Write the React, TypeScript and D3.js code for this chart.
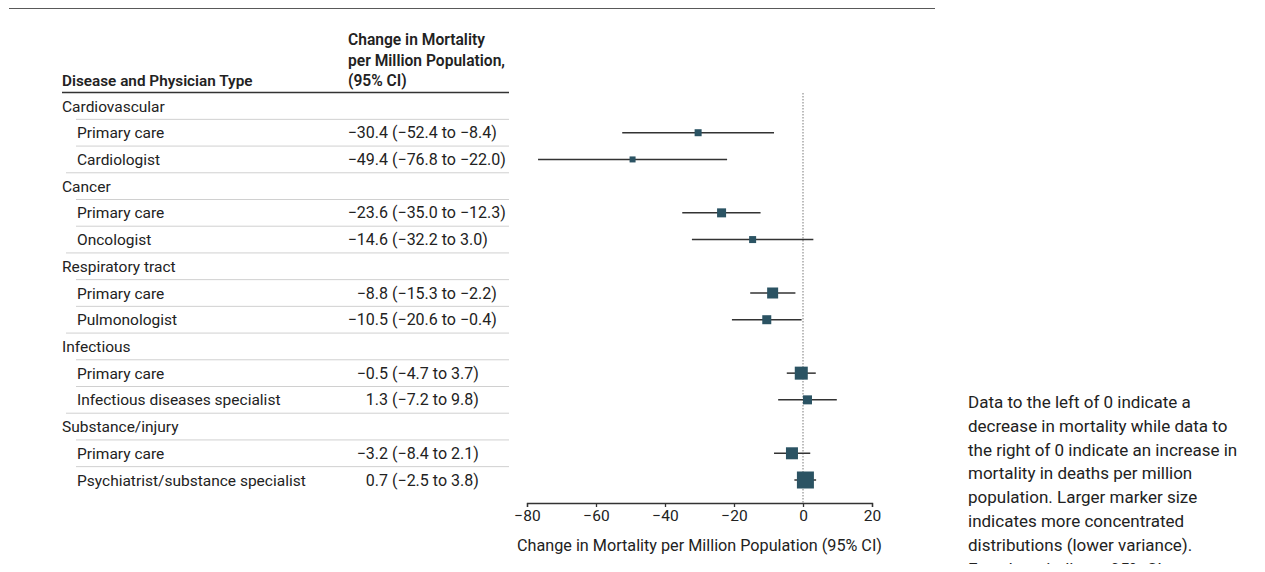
import React, { useRef, useEffect } from 'react';
import * as d3 from 'd3';

// Forest plot data
const GROUPS = ['Cardiovascular', 'Cancer', 'Respiratory tract', 'Infectious', 'Substance/injury'];
const PHYSICIANS = [
  ['Primary care', 'Cardiologist'],
  ['Primary care', 'Oncologist'],
  ['Primary care', 'Pulmonologist'],
  ['Primary care', 'Infectious diseases specialist'],
  ['Primary care', 'Psychiatrist/substance specialist'],
];
const ESTIMATES = [-30.4, -49.4, -23.6, -14.6, -8.8, -10.5, -0.5, 1.3, -3.2, 0.7];
const LOWER = [-52.4, -76.8, -35.0, -32.2, -15.3, -20.6, -4.7, -7.2, -8.4, -2.5];
const UPPER = [-8.4, -22.0, -12.3, 3.0, -2.2, -0.4, 3.7, 9.8, 2.1, 3.8];
// relative marker weight (inverse variance)
const WEIGHTS = [7, 6, 9, 7, 11, 9, 13, 9, 12, 17];

const X_TICKS = [-80, -60, -40, -20, 0, 20];
const X_TITLE = 'Change in Mortality per Million Population (95% CI)';
const COL1_TITLE = 'Disease and Physician Type';
const COL2_TITLE = ['Change in Mortality', 'per Million Population,', '(95% CI)'];
const NOTE = [
  'Data to the left of 0 indicate a',
  'decrease in mortality while data to',
  'the right of 0 indicate an increase in',
  'mortality in deaths per million',
  'population. Larger marker size',
  'indicates more concentrated',
  'distributions (lower variance).',
  'Error bars indicate 95% CI.',
];

const FONT = 'Roboto, "Noto Sans", sans-serif';
const MARKER = '#2b5363';
const TEXT = '#222';

const fmt = (v: number) => v.toFixed(1).replace('-', '\u2212');

export default function App() {
  const svgRef = useRef<SVGSVGElement>(null);

  useEffect(() => {
    const width = 1265;
    const height = 572;
    const svg = d3.select(svgRef.current).attr('width', width).attr('height', height);
    svg.selectAll('*').remove();
    svg.style('font-family', FONT);

    // flatten rows
    type Row = { label: string; group: boolean; idx: number };
    const rows: Row[] = [];
    let k = 0;
    GROUPS.forEach((g, gi) => {
      rows.push({ label: g, group: true, idx: -1 });
      PHYSICIANS[gi].forEach((p) => {
        rows.push({ label: p, group: false, idx: k++ });
      });
    });

    const y = d3.scalePoint<number>().domain(rows.map((_, i) => i)).range([106, 480]);
    const x = d3.scaleLinear().domain([-80, 20]).range([527, 872]);
    const size = d3.scaleLinear().domain([0, 17]).range([0, 17]);
    const step = y.step();

    // top rule
    svg.append('line').attr('x1', 9).attr('x2', 935).attr('y1', 8).attr('y2', 8)
      .attr('stroke', '#222').attr('stroke-width', 1.5);

    // column headers
    svg.append('text').attr('x', 62).attr('y', 86).text(COL1_TITLE)
      .attr('font-size', 15.3).attr('font-weight', 600).attr('fill', TEXT);
    COL2_TITLE.forEach((t, i) => {
      svg.append('text').attr('x', 348).attr('y', 45 + i * 20.5).text(t)
        .attr('font-size', 15.6).attr('font-weight', 600).attr('fill', TEXT);
    });
    svg.append('line').attr('x1', 62).attr('x2', 509).attr('y1', 92.5).attr('y2', 92.5)
      .attr('stroke', '#333').attr('stroke-width', 1.3);

    // row separators
    rows.forEach((r, i) => {
      if (i === rows.length - 1) return;
      const next = rows[i + 1];
      const yy = y(i)! + step / 2;
      svg.append('line').attr('x1', next.group ? 66 : 76).attr('x2', 509)
        .attr('y1', yy).attr('y2', yy).attr('stroke', '#d0d0d0').attr('stroke-width', 1);
    });

    // row labels + CI text
    rows.forEach((r, i) => {
      const yy = y(i)! + 5.5;
      svg.append('text').attr('x', r.group ? 62 : 77).attr('y', yy).text(r.label)
        .attr('font-size', 15.5).attr('fill', TEXT);
      if (!r.group) {
        svg.append('text').attr('x', 388).attr('y', yy).attr('text-anchor', 'end')
          .text(fmt(ESTIMATES[r.idx]))
          .attr('font-size', 16).attr('fill', TEXT);
        svg.append('text').attr('x', 392).attr('y', yy)
          .text(`(${fmt(LOWER[r.idx])} to ${fmt(UPPER[r.idx])})`)
          .attr('font-size', 16).attr('fill', TEXT);
      }
    });

    // reference line at 0
    svg.append('line').attr('x1', x(0)).attr('x2', x(0)).attr('y1', 93).attr('y2', 503)
      .attr('stroke', '#999').attr('stroke-width', 1.3).attr('stroke-dasharray', '1.5,1.5');

    // CIs and markers
    const sub = rows.map((r, i) => ({ ...r, i })).filter((r) => !r.group);
    svg.append('g').selectAll('line').data(sub).join('line')
      .attr('x1', (d) => x(LOWER[d.idx])).attr('x2', (d) => x(UPPER[d.idx]))
      .attr('y1', (d) => y(d.i)!).attr('y2', (d) => y(d.i)!)
      .attr('stroke', '#333').attr('stroke-width', 1.5);
    svg.append('g').selectAll('rect').data(sub).join('rect')
      .attr('x', (d) => x(ESTIMATES[d.idx]) - size(WEIGHTS[d.idx]) / 2)
      .attr('y', (d) => y(d.i)! - size(WEIGHTS[d.idx]) / 2)
      .attr('width', (d) => size(WEIGHTS[d.idx]))
      .attr('height', (d) => size(WEIGHTS[d.idx]))
      .attr('fill', MARKER);

    // x axis
    const ax = svg.append('g').attr('transform', 'translate(0,503)')
      .call(d3.axisBottom(x).tickValues(X_TICKS).tickSize(4).tickPadding(3)
        .tickFormat((d) => String(d).replace('-', '\u2212')));
    ax.select('.domain').attr('stroke', '#333').attr('stroke-width', 1.3);
    ax.selectAll('.tick line').attr('stroke', '#333').attr('stroke-width', 1.3);
    ax.selectAll('.tick text').attr('font-size', 15.5).attr('fill', TEXT).attr('font-family', FONT);
    svg.append('text').attr('x', (x(-80) + x(20)) / 2).attr('y', 551).attr('text-anchor', 'middle')
      .text(X_TITLE).attr('font-size', 16.2).attr('fill', TEXT);

    // note (last line runs off the bottom edge, as in the source figure)
    NOTE.forEach((t, i) => {
      svg.append('text').attr('x', 968).attr('y', 408 + i * 23.8).text(t)
        .attr('font-size', 17).attr('fill', TEXT);
    });
  }, []);

  return (
    <div style={{ margin: -8 }}>
      <svg ref={svgRef} style={{ display: 'block' }} />
    </div>
  );
}
